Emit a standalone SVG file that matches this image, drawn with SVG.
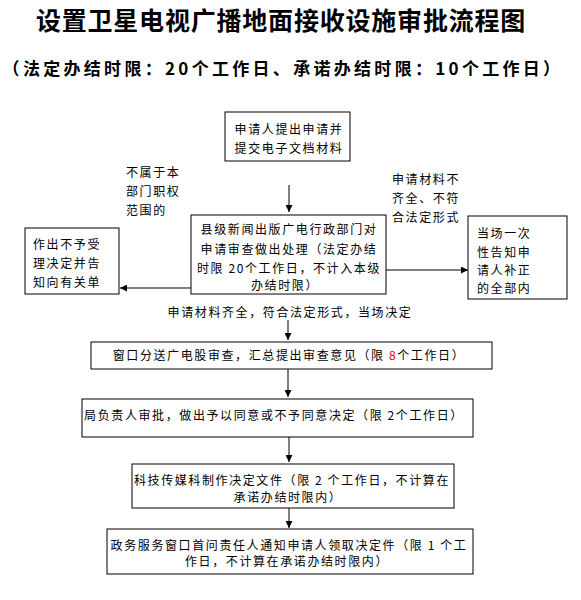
<svg xmlns="http://www.w3.org/2000/svg" width="581" height="600" viewBox="0 0 581 600">
<defs>
<style>
.b{fill:#fff;stroke:#000;stroke-width:1}
.t{font-family:"Noto Sans CJK SC","Liberation Sans",sans-serif;font-size:12px;letter-spacing:1.6px;fill:#000}
.m{text-anchor:middle}
.ln{stroke:#000;stroke-width:1;fill:none}
</style>
<marker id="ah" viewBox="0 0 10 10" refX="10" refY="5" markerWidth="7" markerHeight="7" markerUnits="userSpaceOnUse" orient="auto"><path d="M0,0 L10,5 L0,10 z" fill="#000"/></marker>
</defs>
<rect width="581" height="600" fill="#fff"/>
<g id="title">
<text x="281" y="30" text-anchor="middle" style="font-family:'Noto Sans CJK SC',sans-serif;font-size:25px;font-weight:bold;letter-spacing:0.8px">设置卫星电视广播地面接收设施审批流程图</text>
<text x="283" y="75" text-anchor="middle" style="font-family:'Noto Sans CJK SC',sans-serif;font-size:17px;font-weight:bold;letter-spacing:3.3px">（法定办结时限：20个工作日、承诺办结时限：10个工作日）</text>
</g>
<g id="connectors">
<line class="ln" x1="289" y1="185" x2="289" y2="212" marker-end="url(#ah)"/>
<line class="ln" x1="191" y1="288" x2="120" y2="288" marker-end="url(#ah)"/>
<line class="ln" x1="386" y1="270" x2="468" y2="270" marker-end="url(#ah)"/>
<line class="ln" x1="288" y1="320" x2="288" y2="340" marker-end="url(#ah)"/>
<line class="ln" x1="288" y1="369" x2="288" y2="397" marker-end="url(#ah)"/>
<line class="ln" x1="289" y1="437" x2="289" y2="462" marker-end="url(#ah)"/>
<line class="ln" x1="289" y1="508" x2="289" y2="528" marker-end="url(#ah)"/>
</g>
<g id="n1">
<rect class="b" x="225" y="112" width="125" height="49"/>
<text class="t m" x="289" y="134">申请人提出申请并</text>
<text class="t m" x="289" y="153">提交电子文档材料</text>
</g>
<g id="lblLeft">
<text class="t" x="126" y="177">不属于本</text>
<text class="t" x="126" y="196">部门职权</text>
<text class="t" x="126" y="215">范围的</text>
</g>
<g id="lblRight">
<text class="t" x="392" y="184">申请材料不</text>
<text class="t" x="392" y="203">齐全、不符</text>
<text class="t" x="392" y="222">合法定形式</text>
</g>
<g id="n2">
<rect class="b" x="191" y="215" width="195" height="79"/>
<text class="t m" x="289" y="234">县级新闻出版广电行政部门对</text>
<text class="t m" x="289" y="254">申请审查做出处理（法定办结</text>
<text class="t m" x="289" y="273">时限 20个工作日，不计入本级</text>
<text class="t m" x="285" y="290">办结时限）</text>
</g>
<g id="nLeft">
<rect class="b" x="25" y="228" width="94" height="66"/>
<text class="t" x="33" y="249">作出不予受</text>
<text class="t" x="33" y="268">理决定并告</text>
<text class="t" x="33" y="287">知向有关单</text>
</g>
<g id="nRight">
<rect class="b" x="468" y="216" width="99" height="83"/>
<text class="t" x="477" y="238">当场一次</text>
<text class="t" x="477" y="257">性告知申</text>
<text class="t" x="477" y="275">请人补正</text>
<text class="t" x="477" y="293">的全部内</text>
</g>
<g id="lblMid">
<text class="t m" x="290" y="317">申请材料齐全，符合法定形式，当场决定</text>
</g>
<g id="n3">
<rect class="b" x="91" y="342" width="401" height="27"/>
<text class="t m" x="289" y="360">窗口分送广电股审查，汇总提出审查意见（限 <tspan fill="#e00000">8</tspan>个工作日）</text>
</g>
<g id="n4">
<rect class="b" x="82" y="399" width="391" height="38"/>
<text class="t m" x="274" y="420">局负责人审批，做出予以同意或不予同意决定（限 2个工作日）</text>
</g>
<g id="n5">
<rect class="b" x="132" y="464" width="322" height="44"/>
<text class="t m" x="292" y="485">科技传媒科制作决定文件（限 2 个工作日，不计算在</text>
<text class="t m" x="288" y="502">承诺办结时限内）</text>
</g>
<g id="n6">
<rect class="b" x="107" y="529" width="366" height="45"/>
<text class="t m" x="289" y="550">政务服务窗口首问责任人通知申请人领取决定件（限 1 个工</text>
<text class="t m" x="287" y="566">作日，不计算在承诺办结时限内）</text>
</g>
</svg>
